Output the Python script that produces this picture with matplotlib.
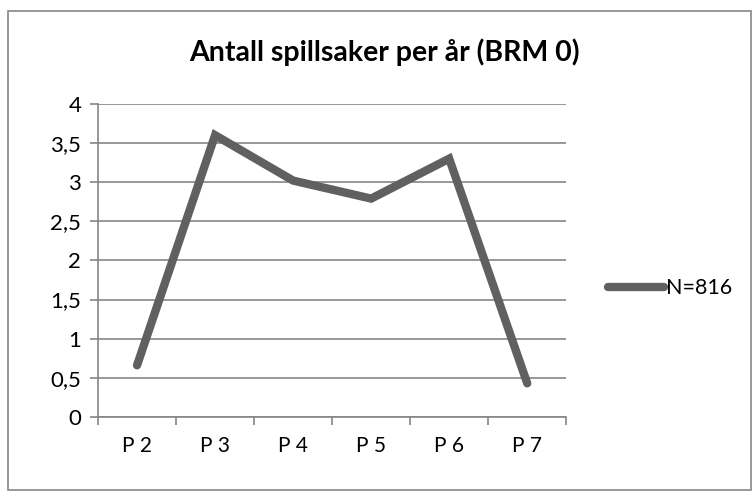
import matplotlib.pyplot as plt
from matplotlib.patches import Rectangle
from matplotlib.lines import Line2D

plt.rcParams['font.family'] = ['Lato', 'DejaVu Sans']

# data
kategorier = ["P 2", "P 3", "P 4", "P 5", "P 6", "P 7"]
verdier = [0.66, 3.60, 3.02, 2.79, 3.30, 0.43]
serie_navn = "N=816"
tittel = "Antall spillsaker per år (BRM 0)"
y_ticks = [0, 0.5, 1, 1.5, 2, 2.5, 3, 3.5, 4]

grid_col = "#868686"
line_col = "#606060"

fig = plt.figure(figsize=(7.54, 4.97), dpi=100)
ax = fig.add_axes([0.130, 0.161, 0.621, 0.630])

x = range(len(kategorier))
ax.plot(x, verdier, color=line_col, lw=6, solid_capstyle="round",
        solid_joinstyle="miter", zorder=3)

ax.set_xlim(-0.5, len(kategorier) - 0.5)
ax.set_ylim(0, 4)
ax.set_yticks(y_ticks)
ax.set_yticklabels([f"{v:g}".replace(".", ",") for v in y_ticks], fontsize=16)
ax.set_xticks(list(x))
ax.set_xticklabels(kategorier, fontsize=15)
ax.set_xticks([i - 0.5 for i in range(len(kategorier) + 1)], minor=True)
ax.tick_params(axis="x", which="major", length=0, pad=14)
ax.tick_params(axis="x", which="minor", length=6, color=grid_col, width=1.2)
ax.tick_params(axis="y", length=6, color=grid_col, width=1.2, pad=6)

ax.grid(axis="y", color=grid_col, lw=1.2)
ax.set_axisbelow(True)
for s in ["top", "right"]:
    ax.spines[s].set_visible(False)
for s in ["left", "bottom"]:
    ax.spines[s].set_color(grid_col)
    ax.spines[s].set_linewidth(1.2)

fig.text(0.51, 0.894, tittel, ha="center", va="center", fontsize=20.5,
         fontweight="bold")

fig.legend(handles=[Line2D([0], [0], color=line_col, lw=6,
                           solid_capstyle="round")],
           labels=[serie_navn], loc="center left",
           bbox_to_anchor=(0.781, 0.42), frameon=False, fontsize=15.5,
           handlelength=2.6, handletextpad=0.1)

fig.patches.append(Rectangle((0.011, 0.014), 0.985, 0.964,
                             transform=fig.transFigure, fill=False,
                             edgecolor="#868686", lw=1.2))

fig.savefig("out.png", dpi=100)
